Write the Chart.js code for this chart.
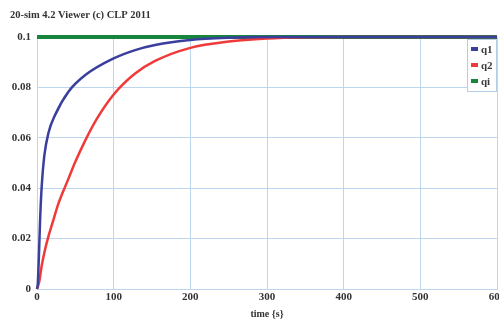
<!DOCTYPE html>
<html lang="en">
<head>
    <meta charset="UTF-8">
    <title>20-sim 4.2 Viewer</title>
    <style>
        body {
            margin: 0;
            padding: 0;
            background-color: #fff;
        }

        .chart-container {
            width: 499px;
            height: 320px;
        }
    </style>
</head>
<body>
    <div class="chart-container">
        <canvas id="simChart"></canvas>
    </div>
    <script src="https://cdn.jsdelivr.net/npm/chart.js"></script>
    <script>
        // values
        const q1Times = [0, 1, 2.6, 4, 6, 9.6, 15, 23.5, 41, 63, 100, 128, 154, 200, 250, 300, 400, 500, 600];
        const q1 = [0, 0.002, 0.014, 0.027, 0.040, 0.053, 0.062, 0.069, 0.0783, 0.0849, 0.0915, 0.0948, 0.0968, 0.0988, 0.0997, 0.1, 0.1, 0.1, 0.1];
        const q2Times = [0, 3, 6, 10, 15, 20, 28, 40, 50, 63, 78, 100, 128, 154, 200, 250, 300, 350, 400, 500, 600];
        const q2 = [0, 0.003, 0.009, 0.015, 0.021, 0.026, 0.034, 0.043, 0.0505, 0.059, 0.0675, 0.0772, 0.0855, 0.0905, 0.0957, 0.0982, 0.0994, 0.0999, 0.1, 0.1, 0.1];
        const qiTimes = [0, 600];
        const qi = [0.1, 0.1];
        const xTicks = [0, 100, 200, 300, 400, 500, 600];
        const yTicks = [0, 0.02, 0.04, 0.06, 0.08, 0.1];

        const serif = '"Liberation Serif", "DejaVu Serif", serif';
        const gridColor = '#bcd6ee';

        function points(times, vals) {
            return times.map((t, i) => ({ x: t, y: vals[i] }));
        }

        // title in the top left and a small boxed legend in the plot corner
        const decor = {
            id: 'decor',
            afterDraw(chart) {
                const ctx = chart.ctx;
                const area = chart.chartArea;
                const sets = chart.data.datasets;
                ctx.save();
                ctx.fillStyle = '#333';
                ctx.font = 'bold 10.5px ' + serif;
                ctx.textBaseline = 'middle';
                ctx.fillText('20-sim 4.2 Viewer (c) CLP 2011', 10, 15);

                const w = 29, rowH = 16;
                const x0 = area.right - w - 1, y0 = area.top + 2;
                ctx.fillStyle = '#fff';
                ctx.fillRect(x0, y0, w, rowH * sets.length + 4);
                ctx.strokeStyle = '#b4cde6';
                ctx.lineWidth = 1;
                ctx.strokeRect(x0 + 0.5, y0 + 0.5, w, rowH * sets.length + 4);
                ctx.font = 'bold 11px ' + serif;
                sets.forEach((ds, i) => {
                    const cy = y0 + 10 + i * rowH;
                    ctx.fillStyle = ds.borderColor;
                    ctx.fillRect(x0 + 4, cy - 2, 7, 4);
                    ctx.fillStyle = '#3a3a3a';
                    ctx.fillText(ds.label, x0 + 14, cy + 1);
                });
                ctx.restore();
            }
        };

        const ctx = document.getElementById('simChart').getContext('2d');
        new Chart(ctx, {
            type: 'line',
            data: {
                datasets: [
                    { label: 'q1', data: points(q1Times, q1), borderColor: '#3a3f9e', borderWidth: 2.5, pointRadius: 0, cubicInterpolationMode: 'monotone', clip: false },
                    { label: 'q2', data: points(q2Times, q2), borderColor: '#f03a3a', borderWidth: 2.5, pointRadius: 0, cubicInterpolationMode: 'monotone', clip: false },
                    { label: 'qi', data: points(qiTimes, qi), borderColor: '#17853c', borderWidth: 4, pointRadius: 0, clip: false }
                ]
            },
            options: {
                responsive: true,
                maintainAspectRatio: false,
                animation: false,
                layout: { padding: { left: 0, right: 2, top: 37, bottom: 0 } },
                plugins: {
                    legend: { display: false },
                    tooltip: { enabled: false },
                    title: { display: false }
                },
                scales: {
                    x: {
                        type: 'linear',
                        min: 0,
                        max: 600,
                        afterBuildTicks: s => { s.ticks = xTicks.map(v => ({ value: v })); },
                        afterFit: s => { s.paddingRight = 0; s.height = 31; },
                        ticks: { color: '#333', font: { family: serif, size: 11, weight: 'bold' }, padding: 2, maxRotation: 0 },
                        grid: { color: gridColor, drawTicks: false },
                        border: { color: gridColor },
                        title: { display: true, text: 'time {s}', color: '#333', font: { family: serif, size: 10, weight: 'bold' }, padding: { top: 1, bottom: 0 } }
                    },
                    y: {
                        min: 0,
                        max: 0.1,
                        afterBuildTicks: s => { s.ticks = yTicks.map(v => ({ value: v })); },
                        afterFit: s => { s.width = 37; s.paddingTop = 0; },
                        ticks: {
                            color: '#333',
                            font: { family: serif, size: 11, weight: 'bold' },
                            padding: 6,
                            callback: v => String(+v.toFixed(2))
                        },
                        grid: { color: gridColor, drawTicks: false },
                        border: { color: gridColor }
                    }
                }
            },
            plugins: [decor]
        });
    </script>
</body>
</html>
